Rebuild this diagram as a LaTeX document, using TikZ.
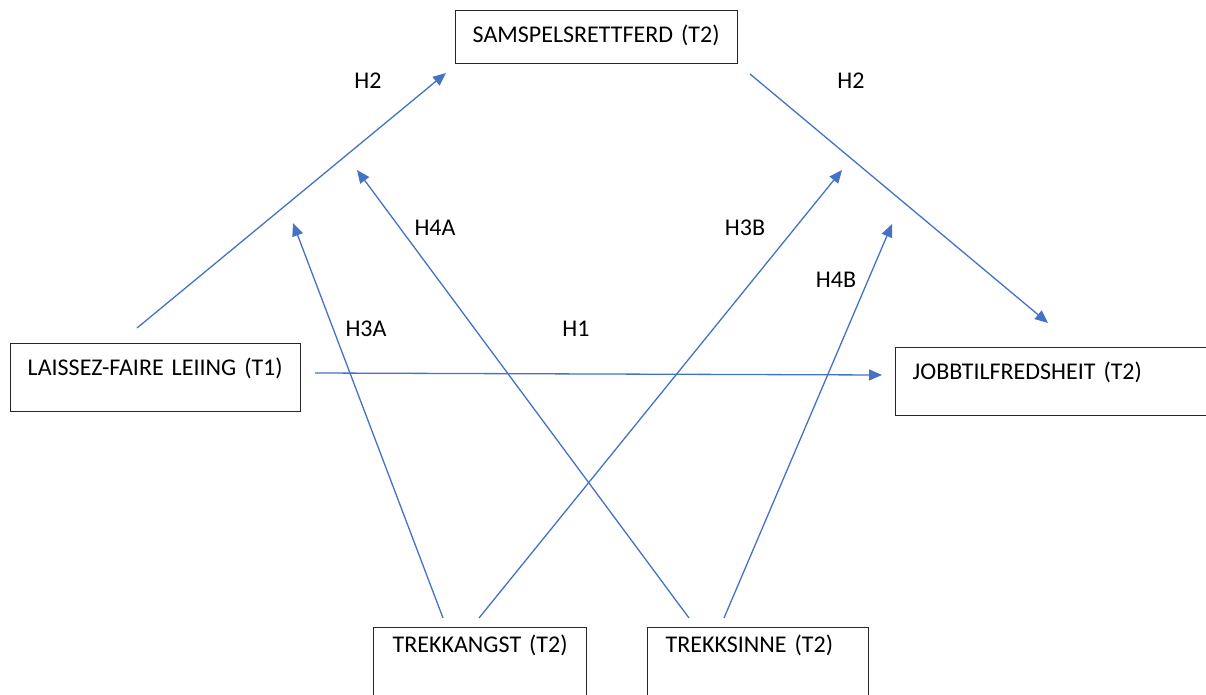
\documentclass[tikz,border=0pt]{standalone}
\usepackage{fontspec}
\setmainfont{Carlito}
\usetikzlibrary{arrows.meta}
\definecolor{pilblaa}{HTML}{4472C4}
\tikzset{
  boks/.style = {draw = black!85, line width = 1.4pt, anchor = north west, inner xsep = 17pt, inner ysep = 0pt, align = left, text height = 32pt},
  pil/.style = {draw = pilblaa, line width = 1.3pt, -{Triangle[length = 13pt, width = 11pt]}}
}
\begin{document}
\begin{tikzpicture}[x = 1pt, y = -1pt, font = \fontsize{24}{28}\selectfont]
            \useasboundingbox (0, 0) rectangle (1206, 695);
            % boksar
            \node [boks, text width = 248pt, text depth = 21pt] (samspel) at (455, 10) {SAMSPELSRETTFERD (T2)};
            \node [boks, text width = 256pt, text depth = 36pt] (laissez) at (10, 343) {LAISSEZ-FAIRE LEIING (T1)};
            \node [boks, text width = 281pt, text depth = 36pt] (jobb) at (895, 347) {JOBBTILFREDSHEIT (T2)};
            \node [boks, inner xsep = 19pt, text height = 25pt, text width = 175pt, text depth = 50pt] (angst) at (373, 627) {TREKKANGST (T2)};
            \node [boks, inner xsep = 18pt, text height = 25pt, text width = 185pt, text depth = 50pt] (sinne) at (647, 627) {TREKKSINNE (T2)};
            % endepunkt for pilene
            \coordinate (h2as) at (137, 328);  \coordinate (h2ae) at (446, 73);
            \coordinate (h2bs) at (750, 74);   \coordinate (h2be) at (1048, 323);
            \coordinate (h1s) at (315, 373);   \coordinate (h1e) at (882, 375);
            \coordinate (h3as) at (443, 618);  \coordinate (h3ae) at (293, 223);
            \coordinate (h3bs) at (479, 618);  \coordinate (h3be) at (842, 170);
            \coordinate (h4as) at (689, 618);  \coordinate (h4ae) at (357, 170);
            \coordinate (h4bs) at (724, 618);  \coordinate (h4be) at (892, 224);
            \draw [pil] (h2as) -- (h2ae);
            \draw [pil] (h2bs) -- (h2be);
            \draw [pil] (h1s) -- (h1e);
            \draw [pil] (h3as) -- (h3ae);
            \draw [pil] (h3bs) -- (h3be);
            \draw [pil] (h4as) -- (h4ae);
            \draw [pil] (h4bs) -- (h4be);
            % hypotesar
            \node (lh2a) at (368, 81) {H2};
            \node (lh2b) at (851, 81) {H2};
            \node (lh4a) at (435, 228) {H4A};
            \node (lh3b) at (745, 228) {H3B};
            \node (lh4b) at (836, 280) {H4B};
            \node (lh3a) at (366, 329) {H3A};
            \node (lh1) at (576, 329) {H1};
        \end{tikzpicture}
\end{document}
